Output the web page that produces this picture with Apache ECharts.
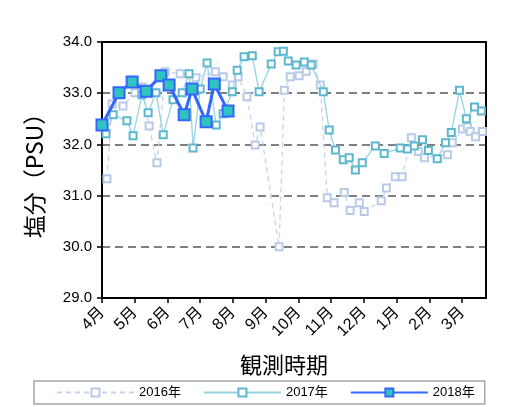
<!DOCTYPE html>
<html>
<head>
<meta charset="utf-8">
<style>
  html, body { margin: 0; padding: 0; background: #fff; }
  #chart { width: 507px; height: 407px; }
</style>
<script src="https://cdn.jsdelivr.net/npm/echarts@6/dist/echarts.min.js"></script>
</head>
<body>
<div id="chart"></div>
<script>
// 月ラベル（x軸は4月=0 からの月数）
const monthLabels = ['4月', '5月', '6月', '7月', '8月', '9月', '10月', '11月', '12月', '1月', '2月', '3月'];

// [月数, 塩分]
const data2016 = [
  [0.15, 31.33], [0.31, 32.79], [0.64, 32.75], [1.01, 33.01], [1.22, 33.12], [1.44, 32.36],
  [1.68, 31.64], [1.93, 33.42], [2.39, 33.38], [2.87, 33.30], [3.46, 33.42], [3.70, 33.32],
  [3.98, 33.16], [4.16, 33.32], [4.43, 32.93], [4.68, 31.99], [4.83, 32.34], [5.41, 30.00],
  [5.57, 33.06], [5.75, 33.32], [6.02, 33.34], [6.24, 33.43], [6.45, 33.57], [6.67, 33.16],
  [6.88, 30.96], [7.09, 30.86], [7.40, 31.06], [7.58, 30.71], [7.86, 30.86], [8.01, 30.69],
  [8.53, 30.90], [8.69, 31.15], [8.96, 31.37], [9.17, 31.37], [9.45, 32.13], [9.66, 31.86],
  [9.85, 31.74], [10.55, 31.80], [10.70, 32.03], [11.01, 32.30], [11.16, 32.34], [11.25, 32.25],
  [11.41, 32.15], [11.62, 32.25]
];

const data2017 = [
  [0.12, 32.21], [0.34, 32.58], [0.76, 32.46], [0.95, 32.17], [1.22, 32.97], [1.41, 32.62],
  [1.65, 33.01], [1.87, 32.19], [2.17, 32.87], [2.45, 33.01], [2.66, 33.38], [2.78, 31.93],
  [3.00, 33.08], [3.21, 33.59], [3.49, 32.38], [3.70, 32.60], [3.98, 33.03], [4.13, 33.45],
  [4.34, 33.71], [4.59, 33.73], [4.80, 33.03], [5.17, 33.57], [5.38, 33.81], [5.54, 33.82],
  [5.69, 33.63], [5.93, 33.55], [6.18, 33.61], [6.39, 33.55], [6.76, 33.03], [6.94, 32.28],
  [7.13, 31.89], [7.37, 31.70], [7.55, 31.74], [7.74, 31.50], [7.95, 31.64], [8.35, 31.97],
  [8.62, 31.82], [9.11, 31.93], [9.33, 31.91], [9.54, 31.97], [9.79, 32.09], [9.97, 31.88],
  [10.24, 31.72], [10.49, 32.03], [10.67, 32.23], [10.92, 33.06], [11.13, 32.50], [11.38, 32.73],
  [11.59, 32.65]
];

const data2018 = [
  [0.00, 32.38], [0.52, 33.01], [0.92, 33.22], [1.35, 33.04], [1.80, 33.34], [2.05, 33.16],
  [2.51, 32.58], [2.75, 33.08], [3.18, 32.44], [3.43, 33.18], [3.85, 32.65]
];

const yTicks = [29, 30, 31, 32, 33, 34];

const chart = echarts.init(document.getElementById('chart'));
const font = 'Liberation Sans, Noto Sans CJK JP, sans-serif';

chart.setOption({
  animation: false,
  textStyle: { fontFamily: font },
  grid: {
    left: 102, right: 21, top: 42, bottom: 109,
    show: true, borderColor: '#000', borderWidth: 2, backgroundColor: '#fff'
  },
  legend: {
    left: 34, top: 381,
    padding: [5, 10, 5, 22],
    itemGap: 22,
    itemWidth: 77, itemHeight: 10,
    borderColor: '#a6a6a6', borderWidth: 1.5,
    textStyle: { fontSize: 13, color: '#000', fontFamily: font },
    data: ['2016年', '2017年', '2018年']
  },
  xAxis: [
    {
      type: 'value',
      min: 0, max: 11.73, interval: 1,
      name: '観測時期',
      nameLocation: 'middle',
      nameGap: 56,
      nameTextStyle: { fontSize: 22, color: '#000', padding: [0, 20, 0, 0], fontFamily: 'Noto Sans CJK JP' },
      axisLine: { lineStyle: { color: '#000', width: 2 } },
      axisTick: { show: true, inside: false, length: 5, lineStyle: { color: '#000', width: 1.5 } },
      axisLabel: {
        rotate: 45, fontSize: 16, color: '#000', margin: 12, showMaxLabel: false,
        formatter: (v) => monthLabels[Math.round(v)] || ''
      },
      splitLine: { show: false }
    },
    {
      // 上枠線
      type: 'value', position: 'top', min: 0, max: 11.73,
      axisLine: { show: true, onZero: false, lineStyle: { color: '#000', width: 2 } },
      axisTick: { show: false }, axisLabel: { show: false }, splitLine: { show: false }
    }
  ],
  yAxis: [
    {
      type: 'value',
      min: yTicks[0], max: yTicks[yTicks.length - 1], interval: 1,
      name: '塩分（PSU）',
      nameLocation: 'middle',
      nameGap: 56,
      nameTextStyle: { fontSize: 23, color: '#000', fontFamily: 'Noto Sans CJK JP' },
      axisLine: { show: true, lineStyle: { color: '#000', width: 2 } },
      axisTick: { show: true, inside: false, length: 5, lineStyle: { color: '#000', width: 1.5 } },
      axisLabel: { fontSize: 15, color: '#000', margin: 10, formatter: (v) => v.toFixed(1) },
      splitLine: { show: true, lineStyle: { color: '#808080', width: 2, type: [8, 5] } }
    },
    {
      // 右枠線
      type: 'value', position: 'right', min: yTicks[0], max: yTicks[yTicks.length - 1],
      axisLine: { show: true, onZero: false, lineStyle: { color: '#000', width: 2 } },
      axisTick: { show: false }, axisLabel: { show: false }, splitLine: { show: false }
    }
  ],
  series: [
    {
      name: '2016年',
      type: 'line',
      data: data2016,
      symbol: 'rect',
      symbolSize: 7,
      lineStyle: { color: '#c3d3ec', width: 1.3, type: [5, 4] },
      itemStyle: { color: '#fff', borderColor: '#b8cae8', borderWidth: 2 },
      z: 2
    },
    {
      name: '2017年',
      type: 'line',
      data: data2017,
      symbol: 'rect',
      symbolSize: 7,
      lineStyle: { color: '#96d3e2', width: 1.3 },
      itemStyle: { color: '#fff', borderColor: '#5cb8cf', borderWidth: 2 },
      z: 3
    },
    {
      name: '2018年',
      type: 'line',
      data: data2018,
      symbol: 'rect',
      symbolSize: 11,
      lineStyle: { color: '#3366ff', width: 3 },
      itemStyle: { color: '#2fc4bd', borderColor: '#3366ff', borderWidth: 2 },
      z: 4
    }
  ]
});
</script>
</body>
</html>
